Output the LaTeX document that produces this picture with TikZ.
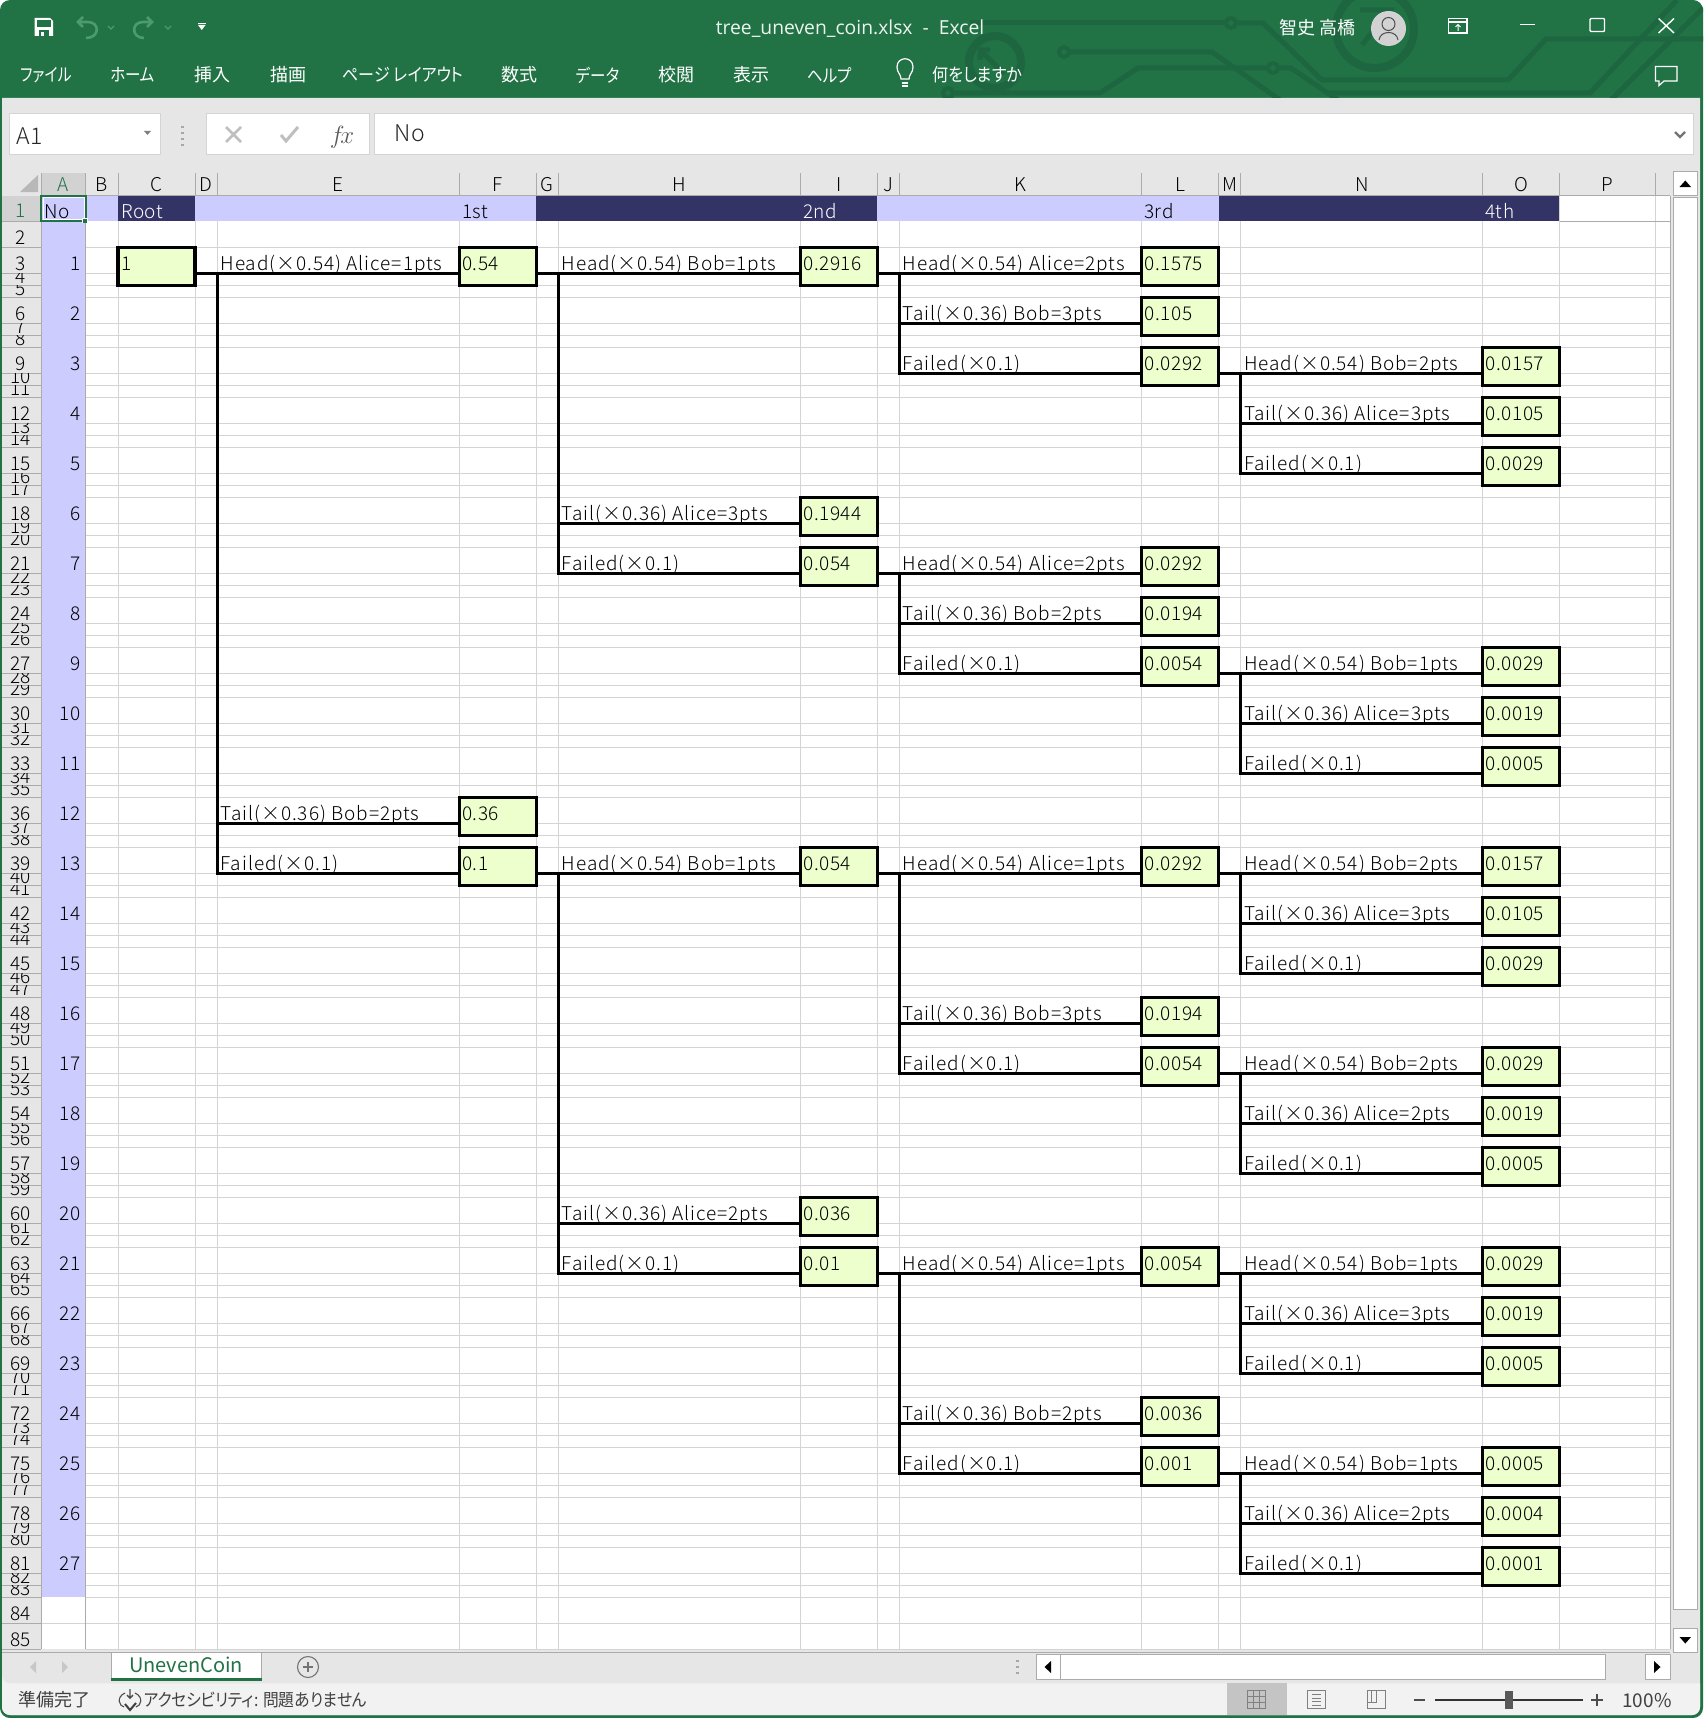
\documentclass[tikz,border=0pt]{standalone}
\usepackage{graphicx}
\usepackage{fontspec}
\setmainfont{Noto Sans CJK JP}
\newfontfamily\lightf{Noto Sans CJK JP Light}[LetterSpace=3]
\newfontfamily\labelf{Noto Sans CJK JP Light}[LetterSpace=5]
\newfontfamily\paltf{Noto Sans CJK JP}[RawFeature=+palt]
\newfontfamily\uif{Open Sans}
\definecolor{xlgreen}{HTML}{217346}
\definecolor{xltrace}{HTML}{1D6640}
\definecolor{hdrgrey}{HTML}{E6E6E6}
\definecolor{hdrsel}{HTML}{D2D2D2}
\definecolor{gridc}{HTML}{D4D4D4}
\definecolor{sepc}{HTML}{ABABAB}
\definecolor{lilac}{HTML}{CCCCFF}
\definecolor{navy}{HTML}{333366}
\definecolor{cellc}{HTML}{ECFFCC}
\definecolor{faint}{HTML}{4E9A70}
\newcommand{\cellfont}{\lightf\fontsize{19}{19}\selectfont}
\newcommand{\labfont}{\labelf\fontsize{19}{19}\selectfont}
\newcommand{\narrowtxt}[1]{\scalebox{0.86}[1]{#1}}
\tikzset{
 valbox/.style={draw=black,line width=3.2pt,fill=cellc,inner xsep=3pt,inner ysep=0pt,outer sep=0pt,text width=71pt,align=left,text height=23pt,text depth=15pt,font=\cellfont},
 conn/.style={draw=black,line width=3.2pt},
 lab/.style={anchor=base west,inner sep=0pt,font=\labfont},
 cell/.style={anchor=base west,inner sep=0pt,font=\cellfont},
 numcell/.style={anchor=base east,inner sep=0pt,font=\cellfont},
 hdr/.style={anchor=base,inner sep=0pt,font=\cellfont},
 ui/.style={anchor=center,inner sep=0pt,text=white,font=\paltf\fontsize{18}{18}\selectfont},
 icon/.style={draw=white,line width=1.4pt},
 trace/.style={draw=xltrace,line width=5pt},
}
\begin{document}
\begin{tikzpicture}[x=1pt,y=-1pt]
\useasboundingbox (0,0) rectangle (1703,1718);
% window
\fill[xlgreen,rounded corners=10pt] (0,0) rectangle (1703,1718);
\fill[hdrgrey] (2,98) [rounded corners=8pt] -- (2,1715) -- (1700,1715) [sharp corners] -- (1700,98) -- cycle;
% circuit decoration
\begin{scope}
\clip (0,0) rectangle (1703,98);
\draw[trace] (970,23) -- (1226,23);
\draw[trace] (1236,23) -- (1263,23) -- (1322,80) -- (1508,80) -- (1546,39) -- (1703,39);
\draw[trace] (1069,52) -- (1212,52) -- (1280,100);
\draw[trace] (953,93) -- (1100,93) -- (1138,68) -- (1268,68);
\draw[trace] (1278,68) -- (1291,68) -- (1338,100);
\draw[trace] (1677,0) -- (1590,93) -- (1330,93);
\draw[trace] (1703,8) -- (1611,100);
\draw[trace,fill=xlgreen,line width=4pt] (1231,23) circle (5);
\draw[trace,fill=xlgreen,line width=4pt] (1064,52) circle (5);
\draw[trace,fill=xlgreen,line width=4pt] (948,93) circle (5);
\draw[trace,fill=xlgreen,line width=4pt] (1273,68) circle (5);
\draw[trace,line width=8pt] (995,62) circle (26);
\draw[trace] (990,50) -- (980,50) -- (980,60) (980,50) -- (1004,74);
\draw[trace,line width=8pt] (1375,29) circle (39);
\draw[trace] (1360,10) -- (1390,10) -- (1362,45);
\end{scope}
% title bar icons
\fill[white] (34.5,18) -- (50,18) -- (53,21) -- (53,36) -- (34.5,36) -- cycle;
\fill[xlgreen] (37,20.5) rectangle (50.5,27);
\fill[xlgreen] (38.5,30) rectangle (49,36);
\fill[white] (41,32) rectangle (44,36);
\draw[faint,line width=2.6pt] (79,22) -- (88,22) .. controls (100,22) and (100,38) .. (86,38);
\draw[faint,line width=2.6pt] (83,17) -- (78,22) -- (83,27);
\draw[faint,line width=2.6pt] (151,22) -- (143,22) .. controls (131,22) and (131,38) .. (144,38);
\draw[faint,line width=2.6pt] (147,17) -- (152,22) -- (147,27);
\draw[faint,line width=1.2pt] (108,26) -- (111,29) -- (114,26);
\draw[faint,line width=1.2pt] (165,26) -- (168,29) -- (171,26);
\fill[white] (198,25) -- (205.5,25) -- (201.75,30) -- cycle;
\draw[white,line width=1pt] (198,23.2) -- (205.5,23.2);
\node[ui,font=\uif\fontsize{19.3}{19}\selectfont,text=white!92!xlgreen] (title) at (850,28.5) {tree\_uneven\_coin.xlsx \ - \ Excel};
\node[ui] (user) at (1317,28) {智史 高橋};
\fill[hdrsel] (1388.5,28.5) circle (17.5);
\draw[black!70,line width=1pt] (1388.5,24) circle (6.5) (1379,40) .. controls (1380,30) and (1397,30) .. (1398,40);
\draw[icon] (1448.5,18.5) rectangle (1467,33);
\draw[icon] (1448.5,22) -- (1467,22);
\draw[white,line width=1pt] (1458,31) -- (1458,24.5) (1455.5,27) -- (1458,24.5) -- (1460.5,27);
\draw[icon] (1520,24.5) -- (1535,24.5);
\draw[icon,rounded corners=1pt] (1590,18.5) rectangle (1604.5,31.5);
\draw[icon] (1658.5,18.5) -- (1674,33) (1674,18.5) -- (1658.5,33);
\draw[white,line width=1.2pt] (1655.5,66.5) -- (1677,66.5) -- (1677,81) -- (1664,81) -- (1659,85.5) -- (1659,81) -- (1655.5,81) -- cycle;
% ribbon tabs
\node[ui] (m1) at (46.5,75) {\scalebox{0.82}[1]{ファイル}};
\node[ui] (m2) at (132.6,75) {\narrowtxt{ホーム}};
\node[ui] (m3) at (212.6,75) {挿入};
\node[ui] (m4) at (288,75) {描画};
\node[ui] (m5) at (403,75) {\scalebox{0.89}[1]{ページ レイアウト}};
\node[ui] (m6) at (519.5,75) {数式};
\node[ui] (m7) at (598,75) {\narrowtxt{データ}};
\node[ui] (m8) at (676,75) {校閲};
\node[ui] (m9) at (751,75) {表示};
\node[ui] (m10) at (829.6,75) {\narrowtxt{ヘルプ}};
\draw[white,line width=1.2pt] (901,79) .. controls (901,74) and (897,73) .. (897,67) .. controls (897,56) and (913,56) .. (913,67) .. controls (913,73) and (909,74) .. (909,79) -- cycle;
\draw[white,line width=1.2pt] (902,83) -- (908,83);
\fill[white] (902,85.2) rectangle (908,87);
\node[ui] (m11) at (977.5,75) {\scalebox{0.89}[1]{何をしますか}};
% formula bar
\fill[white] (9.5,113.5) rectangle (160.5,154.5);
\draw[gridc,line width=1pt] (9.5,113.5) rectangle (160.5,154.5);
\fill[white] (206,113.5) rectangle (369.5,154.5);
\draw[gridc,line width=1pt] (206,113.5) rectangle (369.5,154.5);
\fill[white] (374.5,113.5) rectangle (1693.5,154.5);
\draw[gridc,line width=1pt] (374.5,113.5) rectangle (1693.5,154.5);
\node[hdr,font=\cellfont\fontsize{23}{23}\selectfont,text=black!85] (namebox) at (29.5,145) {A1};
\fill[black!50] (144,131) -- (151,131) -- (147.5,135) -- cycle;
\foreach \yy in {127,133,139,145}{\fill[black!35] (181,\yy-1) rectangle (184,\yy+1);}
\draw[black!25,line width=2.6pt] (226,127) -- (241,142) (241,127) -- (226,142);
\draw[black!25,line width=3pt] (281,135) -- (286,141) -- (298,127);
\node[hdr,font=\fontsize{23}{23}\selectfont\itshape\rmfamily,text=black!65] (fxn) at (342,143) {$f\!x$};
\node[hdr,anchor=base west,font=\cellfont\fontsize{23}{23}\selectfont,text=black!85] (fcontent) at (394,142) {No};
\draw[black!55,line width=2.4pt] (1675,132) -- (1680,137) -- (1685,132);
% sheet background
\fill[white] (41.3,195.7) rectangle (1670.4,1649.3);
% fills
\fill[lilac] (41.3,195.7) rectangle (85.7,1597.3);
\fill[lilac] (85.7,195.7) rectangle (118,221.3);
\fill[navy] (118,195.7) rectangle (195.2,221.3);
\fill[lilac] (195.2,195.7) rectangle (536.2,221.3);
\fill[navy] (536.2,195.7) rectangle (877.4,221.3);
\fill[lilac] (877.4,195.7) rectangle (1218.5,221.3);
\fill[navy] (1218.5,195.7) rectangle (1559.6,221.3);
% grid
\foreach \xx in {118,195.2,217.4,459.2,536.2,558.4,800,877.4,899.5,1141.5,1218.5,1240.8,1482.7,1559.6,1655.8}{
  \draw[gridc,line width=1pt] (\xx,221.3) -- (\xx,1649.3);
}
\foreach \k in {1,...,27}{
  \foreach \d in {26,38,50}{
    \draw[gridc,line width=1pt] (85.7,197.3+50*\k+\d) -- (1670.4,197.3+50*\k+\d);
  }
}
\foreach \yy in {247.3,1623.3,1649.3}{\draw[gridc,line width=1pt] (85.7,\yy) -- (1670.4,\yy);}
\draw[gridc,line width=1pt] (41.3,1623.3) -- (85.7,1623.3);
\draw[sepc,line width=1pt] (1559.6,221.3) -- (1670.4,221.3);
\draw[gridc,line width=1pt] (1559.6,195.7) -- (1559.6,221.3) (1655.8,195.7) -- (1655.8,221.3);
\draw[sepc,line width=1pt] (41.3,195.7) -- (1670.4,195.7);
\draw[sepc,line width=1pt] (1670.4,195.7) -- (1670.4,1649.3);
\draw[sepc,line width=1pt] (85.7,221.3) -- (85.7,1649.3);
% column headers
\fill[hdrsel] (41.3,173) rectangle (85.7,195.2);
\fill[black!28] (20,192) -- (38,175) -- (38,192) -- cycle;
\foreach \xx in {41.3,85.7,118,195.2,217.4,459.2,536.2,558.4,800,877.4,899.5,1141.5,1218.5,1240.8,1482.7,1559.6,1655.8}{
  \draw[sepc,line width=1pt] (\xx,173) -- (\xx,195.7);
}
\foreach \ltr/\cx in {B/101.8,C/156.6,D/206.3,E/338.3,F/497.7,G/547.3,H/679.2,I/838.7,J/888.4,K/1020.5,L/1180,M/1229.6,N/1361.7,O/1521.1,P/1607.7}{
  \node[hdr,text=black] (col\ltr) at (\cx,191.5) {\ltr};
}
\node[hdr,text=xlgreen] (colA) at (63.5,191.5) {A};
% row headers
\fill[hdrsel] (2,195.7) rectangle (41.3,221.3);
\draw[sepc,line width=1pt] (2,221.3) -- (41.3,221.3) (2,247.3) -- (41.3,247.3);
\draw[sepc,line width=1pt] (41.3,195.7) -- (41.3,1649.3);
\node[hdr,text=xlgreen] (row1) at (20.5,217) {1};
\node[hdr] (row2) at (20.5,244) {2};
\foreach \k in {1,...,27}{
  \pgfmathsetmacro\tp{197.3+50*\k}
  \pgfmathtruncatemacro\na{3*\k}
  \pgfmathtruncatemacro\nb{3*\k+1}
  \pgfmathtruncatemacro\nc{3*\k+2}
  \draw[sepc,line width=1pt] (2,\tp+26) -- (41.3,\tp+26) (2,\tp+38) -- (41.3,\tp+38) (2,\tp+50) -- (41.3,\tp+50);
  \node[hdr] (row\na) at (20.5,\tp+23) {\na};
  \begin{scope}
    \clip (2,\tp+26.5) rectangle (41,\tp+37.5);
    \node[hdr] (row\nb) at (20.5,\tp+36) {\nb};
  \end{scope}
  \begin{scope}
    \clip (2,\tp+38.5) rectangle (41,\tp+49.5);
    \node[hdr] (row\nc) at (20.5,\tp+48) {\nc};
  \end{scope}
  \node[numcell] (no\k) at (81,\tp+23) {\k};
}
\node[hdr] (row84) at (20.5,1620.3) {84};
\node[hdr] (row85) at (20.5,1646.3) {85};
\draw[sepc,line width=1pt] (2,1623.3) -- (41.3,1623.3) (2,1649.3) -- (41.3,1649.3);
% header row texts
\node[cell] (hno) at (44.5,218.5) {No};
\node[cell,text=white] (hroot) at (121,218.5) {Root};
\node[cell] (h1) at (462,218.5) {1st};
\node[cell,text=white] (h2) at (803,218.5) {2nd};
\node[cell] (h3) at (1144,218.5) {3rd};
\node[cell,text=white] (h4) at (1485,218.5) {4th};
% A1 selection
\draw[white,line width=1pt] (43,197.5) rectangle (84,219.5);
\draw[xlgreen,line width=2pt] (41.3,195.7) rectangle (85.7,221.3);
\fill[white] (82,218) rectangle (87.5,223);
\fill[xlgreen] (83,219) rectangle (87,223);
% the tree
\node[valbox] (b0k1) at (156.55,266.3) {1};
\foreach \c/\k/\val/\lab/\pc/\pk in {
 1/1/0.54/{Head(×0.54) Alice=1pts}/0/1,
 1/12/0.36/{Tail(×0.36) Bob=2pts}/0/1,
 1/13/0.1/{Failed(×0.1)}/0/1,
 2/1/0.2916/{Head(×0.54) Bob=1pts}/1/1,
 2/6/0.1944/{Tail(×0.36) Alice=3pts}/1/1,
 2/7/0.054/{Failed(×0.1)}/1/1,
 2/13/0.054/{Head(×0.54) Bob=1pts}/1/13,
 2/20/0.036/{Tail(×0.36) Alice=2pts}/1/13,
 2/21/0.01/{Failed(×0.1)}/1/13,
 3/1/0.1575/{Head(×0.54) Alice=2pts}/2/1,
 3/2/0.105/{Tail(×0.36) Bob=3pts}/2/1,
 3/3/0.0292/{Failed(×0.1)}/2/1,
 3/7/0.0292/{Head(×0.54) Alice=2pts}/2/7,
 3/8/0.0194/{Tail(×0.36) Bob=2pts}/2/7,
 3/9/0.0054/{Failed(×0.1)}/2/7,
 3/13/0.0292/{Head(×0.54) Alice=1pts}/2/13,
 3/16/0.0194/{Tail(×0.36) Bob=3pts}/2/13,
 3/17/0.0054/{Failed(×0.1)}/2/13,
 3/21/0.0054/{Head(×0.54) Alice=1pts}/2/21,
 3/24/0.0036/{Tail(×0.36) Bob=2pts}/2/21,
 3/25/0.001/{Failed(×0.1)}/2/21,
 4/3/0.0157/{Head(×0.54) Bob=2pts}/3/3,
 4/4/0.0105/{Tail(×0.36) Alice=3pts}/3/3,
 4/5/0.0029/{Failed(×0.1)}/3/3,
 4/9/0.0029/{Head(×0.54) Bob=1pts}/3/9,
 4/10/0.0019/{Tail(×0.36) Alice=3pts}/3/9,
 4/11/0.0005/{Failed(×0.1)}/3/9,
 4/13/0.0157/{Head(×0.54) Bob=2pts}/3/13,
 4/14/0.0105/{Tail(×0.36) Alice=3pts}/3/13,
 4/15/0.0029/{Failed(×0.1)}/3/13,
 4/17/0.0029/{Head(×0.54) Bob=2pts}/3/17,
 4/18/0.0019/{Tail(×0.36) Alice=2pts}/3/17,
 4/19/0.0005/{Failed(×0.1)}/3/17,
 4/21/0.0029/{Head(×0.54) Bob=1pts}/3/21,
 4/22/0.0019/{Tail(×0.36) Alice=3pts}/3/21,
 4/23/0.0005/{Failed(×0.1)}/3/21,
 4/25/0.0005/{Head(×0.54) Bob=1pts}/3/25,
 4/26/0.0004/{Tail(×0.36) Alice=2pts}/3/25,
 4/27/0.0001/{Failed(×0.1)}/3/25}{
  \node[valbox] (b\c k\k) at (156.55+341.15*\c,216.3+50*\k) {\val};
  \node[lab] (t\c k\k) at ([xshift=-238.8pt,yshift=-4pt]b\c k\k.west) {\lab};
  \draw[conn] ([yshift=-7pt]b\pc k\pk.east) -- ([xshift=22.2pt,yshift=-7pt]b\pc k\pk.east);
  \draw[conn] ([xshift=22.2pt,yshift=-7pt]b\pc k\pk.east) |- ([yshift=-7pt]b\c k\k.west);
}
% bottom: tab bar
\fill[hdrgrey] (2,1650) rectangle (1700,1683);
\draw[sepc,line width=1pt] (2,1652.3) -- (1670.4,1652.3);
\fill[black!22] (30,1667) -- (36,1661) -- (36,1673) -- cycle;
\fill[black!22] (68,1667) -- (62,1661) -- (62,1673) -- cycle;
\fill[white] (111.4,1652.3) rectangle (261.8,1679);
\draw[sepc,line width=1pt] (111.4,1679) -- (111.4,1652.3) -- (261.8,1652.3) -- (261.8,1679);
\fill[xlgreen] (111.4,1678) rectangle (261.8,1680.5);
\node[hdr,text=xlgreen,font=\fontsize{20}{20}\selectfont] (sheet) at (186,1672) {UnevenCoin};
\draw[black!55,line width=1.1pt] (308,1667) circle (10.5);
\draw[black!55,line width=1.5pt] (303,1667) -- (313,1667) (308,1662) -- (308,1672);
\foreach \yy in {1661,1667,1673}{\fill[black!35] (1016,\yy-1) rectangle (1018.5,\yy+1);}
\fill[white] (1036,1654) rectangle (1605.5,1679);
\draw[sepc,line width=1pt] (1036,1654) rectangle (1605.5,1679);
\draw[sepc,line width=1pt] (1060,1654) -- (1060,1679);
\fill[black] (1051,1661) -- (1044.5,1667) -- (1051,1673) -- cycle;
\fill[white] (1645.5,1654) rectangle (1670,1679);
\draw[sepc,line width=1pt] (1645.5,1654) rectangle (1670,1679);
\fill[black] (1654,1661) -- (1660.5,1667) -- (1654,1673) -- cycle;
% vertical scrollbar
\fill[white] (1673.5,171.5) rectangle (1697,195.7);
\draw[sepc,line width=1pt] (1673.5,171.5) rectangle (1697,195.7);
\fill[black] (1679.5,187) -- (1691,187) -- (1685.3,180.5) -- cycle;
\fill[white] (1673.5,197) rectangle (1697,1609);
\draw[sepc,line width=1pt] (1673.5,197) rectangle (1697,1609);
\fill[white] (1673.5,1628) rectangle (1697,1652);
\draw[sepc,line width=1pt] (1673.5,1628) rectangle (1697,1652);
\fill[black] (1679.5,1637) -- (1691,1637) -- (1685.3,1643.5) -- cycle;
% status bar
\fill[black!5] (2,1683.3) [sharp corners] -- (1700,1683.3) [rounded corners=8pt] -- (1700,1715) -- (2,1715) -- (2,1683.3) -- cycle;
\fill[black!23] (1227,1683.3) rectangle (1287,1715);
\node[ui,text=black!75,font=\paltf\fontsize{18}{18}\selectfont] (stat) at (54,1700) {準備完了};
\draw[black!70,line width=1.1pt] (125,1693) .. controls (116,1697) and (119,1706) .. (124,1707) (135,1693) .. controls (144,1697) and (141,1706) .. (136,1707);
\draw[black!70,line width=1.4pt] (130,1689) -- (130,1698) (127,1695) -- (130,1698) -- (133,1695);
\draw[black!75,line width=2pt] (125,1704) -- (130,1710) -- (136,1703);
\node[ui,anchor=west,text=black!75,font=\paltf\fontsize{17.5}{18}\selectfont] (acc) at (143.5,1700) {\scalebox{0.9}[1]{アクセシビリティ: 問題ありません}};
\draw[black!50,line width=1.2pt] (1247.5,1690.5) rectangle (1265.5,1708.5);
\draw[black!50,line width=1pt] (1253.5,1690.5) -- (1253.5,1708.5) (1259.5,1690.5) -- (1259.5,1708.5) (1247.5,1696.5) -- (1265.5,1696.5) (1247.5,1702.5) -- (1265.5,1702.5);
\draw[black!50,line width=1.1pt] (1307.5,1690.5) rectangle (1325.5,1708.5);
\draw[black!50,line width=1pt] (1312,1694.5) -- (1321,1694.5) (1312,1698) -- (1321,1698) (1312,1701.5) -- (1321,1701.5) (1312,1705) -- (1321,1705);
\draw[black!50,line width=1.1pt] (1367.5,1690.5) rectangle (1385.5,1708.5);
\draw[black!50,line width=1pt] (1367.5,1702) -- (1376,1702) -- (1376,1690.5) (1371.5,1690.5) -- (1371.5,1702);
\draw[black!70,line width=1.2pt] (1414,1700) -- (1425,1700);
\draw[black!80,line width=2pt] (1435,1700) -- (1583,1700);
\fill[black!65] (1505,1691) rectangle (1513,1709);
\draw[black!70,line width=1.2pt] (1591,1700) -- (1603,1700) (1597,1694) -- (1597,1706);
\node[ui,text=black!75,font=\fontsize{19}{19}\selectfont] (zoompct) at (1647,1701) {100\%};
\end{tikzpicture}
\end{document}
